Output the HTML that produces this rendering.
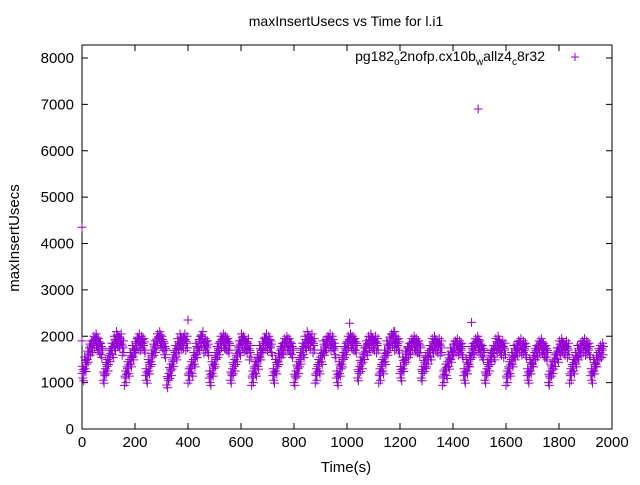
<!DOCTYPE html>
<html><head><meta charset="utf-8"><style>
body{margin:0;background:#fff}
svg{font-family:"Liberation Sans",sans-serif}
</style></head><body>
<svg id="c" width="640" height="480">
<rect x="0" y="0" width="640" height="480" fill="#fff"/>
<text x="346" y="26" text-anchor="middle" font-size="14">maxInsertUsecs vs Time for l.i1</text>
<text x="346" y="472" text-anchor="middle" font-size="15">Time(s)</text>
<text transform="translate(19,238) rotate(-90)" text-anchor="middle" font-size="15">maxInsertUsecs</text>
<g id="ax"></g>
<g id="pts"></g>
<g>
<text x="545" y="61" text-anchor="end" font-size="14">pg182<tspan font-size="10" dy="4">o</tspan><tspan dy="-4">2nofp.cx10b</tspan><tspan font-size="10" dy="4">w</tspan><tspan dy="-4">allz4</tspan><tspan font-size="10" dy="4">c</tspan><tspan dy="-4">8r32</tspan></text>
<path d="M571 57h8M575 53v8" stroke="#9400d3" stroke-width="1"/>
</g>
</svg>
<script>
const xTicks=[0,200,400,600,800,1000,1200,1400,1600,1800,2000];
const yTicks=[0,1000,2000,3000,4000,5000,6000,7000,8000];
const values=[1200,1400,1600,1750,1850,1900,1800,1700,
1150,1350,1550,1700,1850,1950,1900,1750,
1100,1300,1500,1650,1800,1900,1850,1800,
1150,1350,1550,1750,1900,1950,1850,1700,
1050,1250,1450,1650,1800,1900,1900,1850,
1150,1300,1500,1700,1850,1950,1800,1750,
1100,1300,1500,1700,1850,1900,1850,1800,
1150,1350,1550,1750,1900,1850,1800,1650,
1100,1300,1450,1650,1800,1900,1850,1750,
1150,1350,1550,1700,1800,1850,1800,1700,
1100,1300,1500,1700,1850,1950,1900,1800,
1150,1350,1550,1750,1850,1900,1850,1700,
1100,1300,1500,1700,1850,1900,1850,1800,
1200,1400,1600,1750,1850,1900,1850,1800,
1150,1350,1550,1750,1900,1950,1850,1800,
1200,1400,1600,1700,1800,1850,1800,1750,
1200,1400,1500,1650,1800,1850,1800,1750,
1100,1250,1450,1600,1750,1800,1750,1700,
1150,1350,1500,1700,1800,1850,1750,1650,
1150,1350,1550,1650,1800,1850,1750,1700,
1100,1300,1500,1650,1750,1800,1750,1700,
1150,1350,1500,1650,1750,1800,1700,1650,
1100,1300,1450,1600,1750,1800,1750,1700,
1150,1350,1500,1650,1750,1800,1750,1700,
1150,1350,1500,1650,1700];
const step=10;
const outX=[0,0,400,1010,1180,1470,1495];
const outY=[4350,1900,2350,2280,2100,2300,6900];
const NS='http://www.w3.org/2000/svg';
const L=82,R=612,T=45,B=429;
function sx(v){return L+(v-0)/(2000-0)*(R-L);}
function sy(v){return B-(v/8000)*(429-58);}
const ax=document.getElementById('ax');
function mk(tag,attrs,parent){const e=document.createElementNS(NS,tag);for(const k in attrs)e.setAttribute(k,attrs[k]);parent.appendChild(e);return e;}
const frame=mk('rect',{x:L,y:T,width:R-L,height:B-T,fill:'none',stroke:'#000','stroke-width':1},ax);


xTicks.forEach(t=>{const x=sx(t);
const p=mk('path',{d:`M${x} ${B}v-6M${x} ${T}v6`,stroke:'#000'},ax);


const tx=mk('text',{x:x,y:B+18,'text-anchor':'middle','font-size':15},ax);tx.textContent=t;

});
yTicks.forEach(t=>{const y=sy(t);
const p=mk('path',{d:`M${L} ${y}h6M${R} ${y}h-6`,stroke:'#000'},ax);


const tx=mk('text',{x:L-8,y:y+5,'text-anchor':'end','font-size':15},ax);tx.textContent=t;

});
const g=document.getElementById('pts');
function plus(xv,yv){const x=sx(xv),y=sy(yv);
const p=mk('path',{d:`M${x-4.5} ${y}h9M${x} ${y-4.5}v9`,stroke:'#9400d3','stroke-width':1},g);

}
const offs=[0,150,-100,80,-160,40];
values.forEach((v,i)=>{const t=i*step;
for(let k=0;k<offs.length;k++){plus(t+k*1.6,v+offs[(k+i)%offs.length]);}});
outX.forEach((x,i)=>plus(x,outY[i]));
</script>
</body></html>
